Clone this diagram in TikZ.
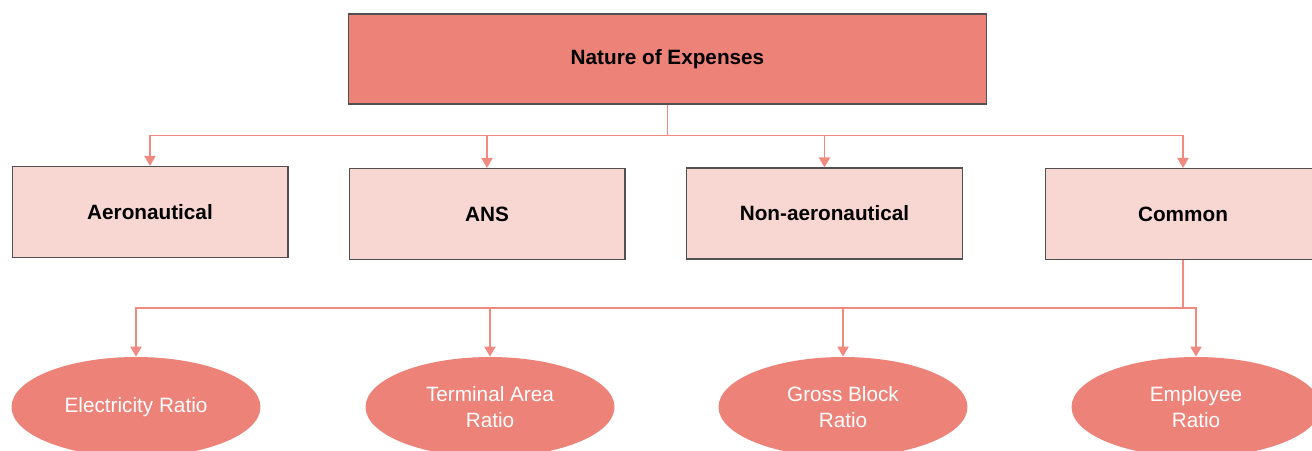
\documentclass[tikz,border=0pt]{standalone}
\usepackage{fontspec}
\setmainfont{Liberation Sans}
\usepackage{tikz}
\usetikzlibrary{arrows.meta}
\usetikzlibrary{positioning}
\usetikzlibrary{shapes.geometric}
\tikzset{>={Triangle[length=0.2cm,width=0.22cm]}}
\usepackage{xcolor}
\definecolor{salmon}{RGB}{236,130,120}
\definecolor{lightsalmon}{RGB}{248,215,211}
\definecolor{linkred}{RGB}{240,138,128}
\definecolor{boxgray}{RGB}{80,80,80}
\def\labelfont{\fontsize{11.8}{14.6}\selectfont}

\begin{document}
\begin{tikzpicture}[x=0.02cm,y=-0.02cm,
	head/.style={rectangle, draw=boxgray, line width=0.6pt, fill=salmon, minimum width=12.78cm, minimum height=1.8cm, font=\labelfont\bfseries},
	cat/.style={rectangle, draw=boxgray, line width=0.6pt, fill=lightsalmon, minimum width=5.52cm, minimum height=1.82cm, font=\labelfont\bfseries},
	ratio/.style={ellipse, fill=salmon, inner sep=0pt, minimum width=4.98cm, minimum height=2cm, text=white, align=center, font=\labelfont},
	link/.style={->, draw=linkred, line width=1.1pt},
	]
	
	\clip (0,0) rectangle (1312,450);
	
	\node[head] (head) at (667.5,59) {Nature of Expenses};
	
	\node[cat] (aero) at (150,212) {Aeronautical};
	\node[cat] (ans) at (487,214) {ANS};
	\node[cat] (nonaero) at (824.5,213.5) {Non-aeronautical};
	\node[cat] (common) at (1183,214) {Common};
	
	\node[ratio] (elec) at (136,407) {Electricity Ratio};
	\node[ratio] (term) at (490,407) {Terminal Area\\Ratio};
	\node[ratio] (gross) at (843,407) {Gross Block\\Ratio};
	\node[ratio] (empl) at (1196,407) {Employee\\Ratio};
	
	% first level
	\draw[link,-] (head.south) -- ++(0,31) coordinate (bus);
	\foreach \dest in {aero,ans,nonaero,common}
	\draw[link] (bus) -| (\dest.north);
	
	% second level
	\draw[link,-] (common.south) -- ++(0,48) coordinate (bus2);
	\foreach \dest in {elec,term,gross,empl}
	\draw[link] (bus2) -| (\dest.north);
	
\end{tikzpicture}
\end{document}
